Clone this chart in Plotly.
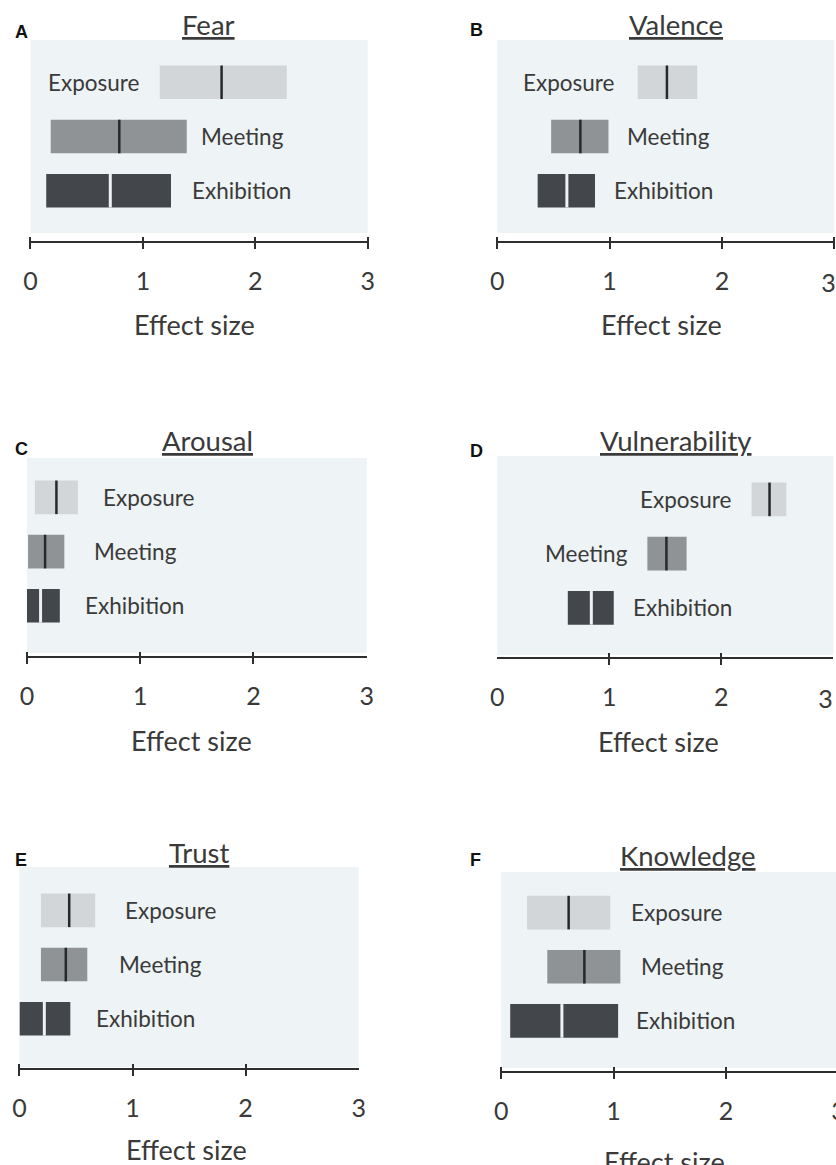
import plotly.graph_objects as go

# the captured picture shows a slight horizontal squeeze (x_pic ~= 0.98*x + 7.6); compensate
SX, BX = 0.98, 7.6
W, H = 853, 1165

# ---------------- data ----------------
categories = ["Exposure", "Meeting", "Exhibition"]
titles = ["Fear", "Valence", "Arousal", "Vulnerability", "Trust", "Knowledge"]
letters = ["A", "B", "C", "D", "E", "F"]
tick_values = [0, 1, 2, 3]
tick_labels = ["0", "1", "2", "3"]

# lower bound, upper bound, median of effect size (Exposure, Meeting, Exhibition)
fear_low = [1.15, 0.18, 0.14]
fear_high = [2.28, 1.39, 1.25]
fear_med = [1.70, 0.79, 0.71]

valence_low = [1.25, 0.48, 0.36]
valence_high = [1.78, 0.99, 0.87]
valence_med = [1.51, 0.74, 0.62]

arousal_low = [0.07, 0.01, 0.00]
arousal_high = [0.45, 0.33, 0.29]
arousal_med = [0.26, 0.16, 0.12]

vulnerability_low = [2.27, 1.34, 0.63]
vulnerability_high = [2.58, 1.69, 1.04]
vulnerability_med = [2.43, 1.51, 0.84]

trust_low = [0.19, 0.19, 0.00]
trust_high = [0.67, 0.60, 0.45]
trust_med = [0.44, 0.41, 0.22]

knowledge_low = [0.23, 0.41, 0.08]
knowledge_high = [0.97, 1.06, 1.04]
knowledge_med = [0.60, 0.74, 0.54]

lows = [fear_low, valence_low, arousal_low, vulnerability_low, trust_low, knowledge_low]
highs = [fear_high, valence_high, arousal_high, vulnerability_high, trust_high, knowledge_high]
meds = [fear_med, valence_med, arousal_med, vulnerability_med, trust_med, knowledge_med]

# ---------------- styles / layout (screen pixels) ----------------
BG = "#eef3f5"
BAR_COLORS = ["#d2d6d9", "#8f9396", "#43474b"]
MED_COLORS = ["#26282a", "#26282a", "#eef2f4"]
MED_WIDTHS = [2.5, 2.5, 3]
TXT = "#3a3a3a"
AXC = "#2e2e2e"
FONT = "Lato"

panels = [
    dict(xdom=(31, 367), ybox=(40, 233), axis_y=242, yrange=(-0.78, 2.78), marks=[0, 1, 2, 3], last_shift=0,
         side=["left", "right", "right"], gap=[18, 12, 19], title=(208, 24), letter=(22, 32), xlab=(194, 324)),
    dict(xdom=(496, 832), ybox=(40, 233), axis_y=242, yrange=(-0.78, 2.78), marks=[0, 1, 2, 3], last_shift=-6,
         side=["left", "right", "right"], gap=[21, 17, 17], title=(674, 24), letter=(475, 30), xlab=(660, 324)),
    dict(xdom=(27.5, 366), ybox=(458, 653), axis_y=657, yrange=(-0.87, 2.725), marks=[0, 1, 2], last_shift=0,
         side=["right", "right", "right"], gap=[23, 28, 23], title=(207, 440), letter=(22, 449), xlab=(191, 740)),
    dict(xdom=(496, 831), ybox=(456, 655), axis_y=658, yrange=(-0.87, 2.80), marks=[1, 2], last_shift=-8,
         side=["left", "left", "right"], gap=[18, 17, 17], title=(674, 440), letter=(475, 451), xlab=(657, 741)),
    dict(xdom=(20, 358), ybox=(867, 1067), axis_y=1069, yrange=(-0.89, 2.80), marks=[0, 1, 2], last_shift=0,
         side=["right", "right", "right"], gap=[28, 30, 24], title=(199, 852), letter=(22, 860), xlab=(186, 1149)),
    dict(xdom=(500, 836), ybox=(872, 1068), axis_y=1072, yrange=(-0.87, 2.75), marks=[0, 1, 2], last_shift=0,
         side=["right", "right", "right"], gap=[19, 19, 16], title=(686, 855), letter=(474, 860), xlab=(663, 1161)),
]


def fx(p):
    return ((p - BX) / SX) / W


def fy(p):
    return 1 - p / H


fig = go.Figure()
layout = {}
annotations = []
TICKFONT = dict(family=FONT, size=25, color=TXT)

for i, P in enumerate(panels):
    n = i + 1
    xa = "x" if n == 1 else f"x{n}"
    ya = "y" if n == 1 else f"y{n}"
    xo = f"x{n + 6}"
    low, high, med = lows[i], highs[i], meds[i]

    fig.add_trace(go.Bar(
        y=categories, x=[h - l for l, h in zip(low, high)], base=low, orientation="h",
        marker=dict(color=BAR_COLORS, line=dict(width=0)), width=0.62,
        xaxis=xa, yaxis=ya, showlegend=False, hoverinfo="skip"))
    fig.add_trace(go.Scatter(
        y=categories, x=med, mode="markers",
        marker=dict(symbol="line-ns", size=24, line=dict(color=MED_COLORS, width=MED_WIDTHS)),
        xaxis=xa, yaxis=ya, showlegend=False, hoverinfo="skip", cliponaxis=False))
    # dummy trace registering the tick-mark overlay axis
    fig.add_trace(go.Scatter(x=[None], y=[None], xaxis=xo, yaxis=ya, showlegend=False, hoverinfo="skip"))

    dom = [max(0.0, fx(P["xdom"][0])), min(1.0, fx(P["xdom"][1]))]
    shifted = P["last_shift"] != 0
    main_vals = tick_values[:-1] if shifted else tick_values
    main_text = tick_labels[:-1] if shifted else tick_labels
    layout[f"xaxis{n}"] = dict(
        domain=dom, range=[0, 3], anchor="free", position=fy(P["axis_y"]),
        showline=True, linecolor=AXC, linewidth=2, ticks="", showgrid=False, zeroline=False,
        tickmode="array", tickvals=main_vals, ticktext=main_text,
        tickfont=TICKFONT, ticklabelstandoff=17, fixedrange=True)
    layout[f"xaxis{n + 6}"] = dict(
        domain=dom, range=[0, 3], anchor="free", overlaying=xa, position=fy(P["axis_y"] - 6),
        showline=False, ticks="outside", ticklen=12, tickwidth=2, tickcolor=AXC,
        tickmode="array", tickvals=P["marks"], showticklabels=False, showgrid=False, zeroline=False)
    if shifted:
        xl = f"x{n + 12}"
        fig.add_trace(go.Scatter(x=[None], y=[None], xaxis=xl, yaxis=ya, showlegend=False, hoverinfo="skip"))
        layout[f"xaxis{n + 12}"] = dict(
            domain=dom, range=[0, 3], anchor="free", overlaying=xa, position=fy(P["axis_y"]),
            showline=False, ticks="", showgrid=False, zeroline=False,
            tickmode="array", tickvals=tick_values[-1:], ticktext=tick_labels[-1:],
            tickfont=TICKFONT, ticklabelstandoff=24, ticklabelshift=P["last_shift"])
    layout[f"yaxis{n}"] = dict(
        domain=[fy(P["ybox"][1]), fy(P["ybox"][0])], range=list(P["yrange"]), anchor=xa,
        type="category", categoryorder="array", categoryarray=categories[::-1],
        visible=False, showgrid=False, zeroline=False)

    for j, cat in enumerate(categories):
        if P["side"][j] == "left":
            annotations.append(dict(x=low[j], y=cat, xref=xa, yref=ya, text=cat, showarrow=False,
                                    xanchor="right", xshift=-P["gap"][j],
                                    font=dict(family=FONT, size=22.5, color=TXT)))
        else:
            annotations.append(dict(x=high[j], y=cat, xref=xa, yref=ya, text=cat, showarrow=False,
                                    xanchor="left", xshift=P["gap"][j],
                                    font=dict(family=FONT, size=22.5, color=TXT)))

    annotations.append(dict(x=fx(P["title"][0]), y=fy(P["title"][1]), xref="paper", yref="paper",
                            text=f"<u>{titles[i]}</u>", showarrow=False, xanchor="center", yanchor="middle",
                            font=dict(family=FONT, size=27.5, color=TXT)))
    annotations.append(dict(x=fx(P["letter"][0]), y=fy(P["letter"][1]), xref="paper", yref="paper",
                            text=f"<b>{letters[i]}</b>", showarrow=False, xanchor="center", yanchor="middle",
                            font=dict(family="Liberation Sans, Arial", size=18, color="#111111")))
    annotations.append(dict(x=fx(P["xlab"][0]), y=fy(P["xlab"][1]), xref="paper", yref="paper",
                            text="Effect size", showarrow=False, xanchor="center", yanchor="middle",
                            font=dict(family=FONT, size=27, color=TXT)))

fig.update_layout(
    width=W, height=H, margin=dict(l=0, r=0, t=0, b=0),
    paper_bgcolor="white", plot_bgcolor=BG, showlegend=False,
    annotations=annotations, barmode="overlay", **layout)

fig.write_html("out.html", config={"displayModeBar": False},
               post_script="document.body.style.margin='0px';document.body.style.overflow='hidden';")
